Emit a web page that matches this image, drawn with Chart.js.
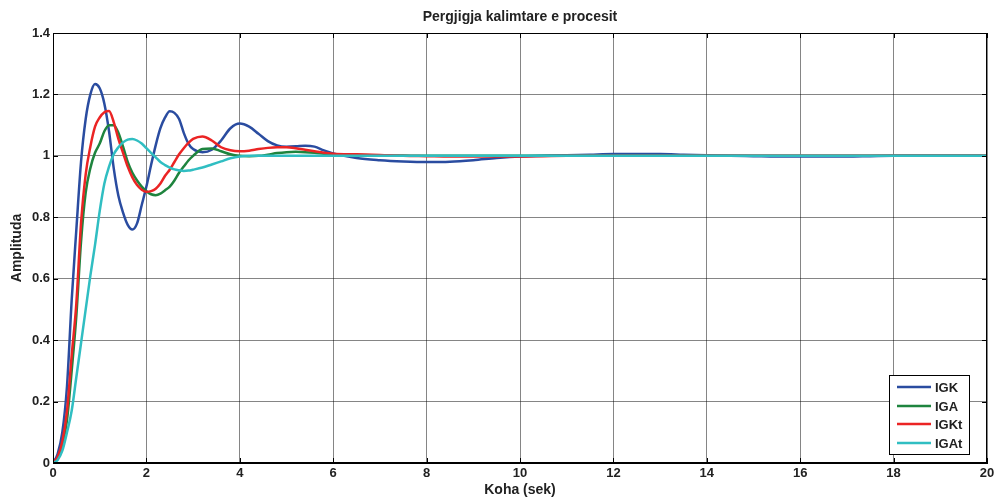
<!DOCTYPE html>
<html>
<head>
<meta charset="utf-8">
<script src="https://cdn.jsdelivr.net/npm/chart.js@4/dist/chart.umd.min.js"></script>
<style>
  html, body { margin: 0; padding: 0; background: #fff; }
  #wrap { width: 1000px; height: 503px; }
</style>
</head>
<body>
<div id="wrap"><canvas id="c" width="1000" height="503"></canvas></div>
<script>
const chartTitle = "Pergjigja kalimtare e procesit";
const xTitle = "Koha (sek)";
const yTitle = "Amplituda";
const seriesNames = ["IGK", "IGA", "IGKt", "IGAt"];
const seriesColors = ["rgb(42,76,160)", "rgb(30,132,62)", "rgb(235,36,36)", "rgb(48,190,194)"];

const time = [0,0.1,0.2,0.3,0.4,0.5,0.6,0.7,0.8,0.9,1.0,1.1,1.2,1.3,1.4,1.5,1.6,1.7,1.8,1.9,2.0,2.1,2.2,2.3,2.4,2.5,2.6,2.7,2.8,2.9,3.0,
  3.2,3.4,3.6,3.8,4.0,4.2,4.4,4.6,4.8,5.0,5.2,5.4,5.6,5.8,6.0,
  6.5,7,7.5,8,8.5,9,9.5,10,10.5,11,11.5,12,12.5,13,13.5,14,14.5,15,15.5,16,16.5,17,17.5,18,18.5,19,19.5,20];

const igk = [0,0.03,0.1,0.25,0.53,0.76,0.98,1.12,1.2,1.234,1.22,1.17,1.08,0.96,0.87,0.815,0.775,0.76,0.78,0.84,0.9,0.97,1.035,1.09,1.125,1.145,1.14,1.12,1.075,1.04,1.022,
  1.012,1.02,1.05,1.09,1.105,1.095,1.072,1.048,1.034,1.03,1.031,1.033,1.03,1.018,1.008,
  0.993,0.986,0.982,0.98,0.981,0.986,0.993,0.998,1.0,1.002,1.004,1.006,1.006,1.006,1.004,1.002,1.0,0.999,0.998,0.998,0.998,0.998,0.999,1.0,1.0,1.0,1.0,1.0];

const iga = [0,0.015,0.06,0.14,0.3,0.48,0.72,0.88,0.96,1.01,1.04,1.08,1.1,1.1,1.075,1.03,0.98,0.945,0.92,0.9,0.885,0.875,0.872,0.877,0.888,0.9,0.92,0.945,0.965,0.985,1.0,
  1.022,1.024,1.015,1.005,1.0,0.999,1.0,1.004,1.009,1.012,1.013,1.012,1.01,1.007,1.005,
  1.003,1.002,1.001,1.0,1.0,1.0,1.0,1.0,1.0,1.0,1.0,1.0,1.0,1.0,1.0,1.0,1.0,1.0,1.0,1.0,1.0,1.0,1.0,1.0,1.0,1.0,1.0,1.0];

const igkt = [0,0.02,0.07,0.17,0.35,0.52,0.78,0.94,1.03,1.095,1.125,1.142,1.146,1.11,1.055,1.01,0.965,0.93,0.905,0.89,0.883,0.885,0.893,0.91,0.935,0.955,0.98,1.005,1.025,1.042,1.055,
  1.063,1.05,1.028,1.018,1.015,1.017,1.022,1.026,1.028,1.028,1.025,1.02,1.015,1.01,1.007,
  1.005,1.003,1.0,0.999,0.998,0.998,0.998,0.998,0.999,1.0,1.0,1.0,1.0,1.0,1.0,1.0,1.0,1.0,1.0,1.0,1.0,1.0,1.0,1.0,1.0,1.0,1.0,1.0];

const igat = [0,0.01,0.04,0.1,0.17,0.28,0.39,0.5,0.61,0.71,0.82,0.91,0.965,1.005,1.028,1.044,1.053,1.055,1.05,1.04,1.025,1.01,0.995,0.98,0.97,0.962,0.956,0.953,0.951,0.952,0.955,
  0.962,0.972,0.982,0.992,0.998,1.0,1.0,1.0,1.0,1.0,1.0,1.0,1.0,1.0,1.0,
  1.0,1.0,1.0,1.0,1.0,1.0,1.0,1.0,1.0,1.0,1.0,1.0,1.0,1.0,1.0,1.0,1.0,1.0,1.0,1.0,1.0,1.0,1.0,1.0,1.0,1.0,1.0,1.0];

const xTicks = [0,2,4,6,8,10,12,14,16,18,20];
const yTicks = [0,0.2,0.4,0.6,0.8,1,1.2,1.4];

const allSeries = [igk, iga, igkt, igat];
const FONT = "'Liberation Sans', Arial, sans-serif";

const datasets = allSeries.map((vals, i) => ({
  label: seriesNames[i],
  data: time.map((t, k) => ({x: t, y: vals[k]})),
  borderColor: seriesColors[i],
  backgroundColor: seriesColors[i],
  borderWidth: 2.5,
  pointRadius: 0,
  fill: false,
  cubicInterpolationMode: 'monotone',
  order: allSeries.length - i
}));

const framePlugin = {
  id: 'frame',
  afterDatasetsDraw(chart) {
    const {ctx, chartArea: a, scales} = chart;
    ctx.save();
    ctx.strokeStyle = '#000';
    ctx.lineWidth = 1;
    ctx.strokeRect(a.left + 0.5, a.top + 0.5, a.right - a.left - 1, a.bottom - a.top - 1);
    const tl = 5;
    ctx.beginPath();
    xTicks.forEach(v => {
      const px = Math.round(scales.x.getPixelForValue(v)) + 0.5;
      ctx.moveTo(px, a.bottom); ctx.lineTo(px, a.bottom - tl);
      ctx.moveTo(px, a.top); ctx.lineTo(px, a.top + tl);
    });
    yTicks.forEach(v => {
      const py = Math.round(scales.y.getPixelForValue(v)) + 0.5;
      ctx.moveTo(a.left, py); ctx.lineTo(a.left + tl, py);
      ctx.moveTo(a.right, py); ctx.lineTo(a.right - tl, py);
    });
    ctx.stroke();

    const bx = 889, by = 375, bw = 80, bh = 79;
    ctx.fillStyle = '#fff';
    ctx.fillRect(bx, by, bw, bh);
    ctx.strokeStyle = '#000';
    ctx.strokeRect(bx + 0.5, by + 0.5, bw, bh);
    const rows = [387, 406, 424, 443];
    ctx.font = "bold 13px " + FONT;
    ctx.textBaseline = 'middle';
    ctx.textAlign = 'left';
    chart.data.datasets.forEach((ds, i) => {
      const y = rows[i];
      ctx.strokeStyle = ds.borderColor;
      ctx.lineWidth = 2.5;
      ctx.beginPath();
      ctx.moveTo(897, y); ctx.lineTo(931, y);
      ctx.stroke();
      ctx.fillStyle = '#222';
      ctx.fillText(ds.label, 935, y + 1);
    });
    ctx.restore();
  }
};

new Chart(document.getElementById('c'), {
  type: 'line',
  data: { datasets },
  plugins: [framePlugin],
  options: {
    responsive: false,
    animation: false,
    devicePixelRatio: 1,
    layout: { padding: { left: 0, right: 13, top: 0, bottom: 0 } },
    plugins: {
      legend: { display: false },
      tooltip: { enabled: false },
      title: {
        display: true,
        text: chartTitle,
        fullSize: false,
        color: '#222',
        font: { family: FONT, size: 14, weight: 'bold', lineHeight: 1.2 },
        padding: { top: 9, bottom: 7.2 }
      }
    },
    scales: {
      x: {
        type: 'linear',
        min: 0, max: 20,
        afterFit(s) { s.height = 40; },
        afterBuildTicks(s) { s.ticks = xTicks.map(v => ({value: v})); },
        ticks: { color: '#222', padding: 3, maxRotation: 0, autoSkip: false,
          font: { family: FONT, size: 13, weight: 'bold' } },
        grid: { color: 'rgba(0,0,0,0.48)', lineWidth: 1, drawTicks: false },
        border: { color: '#000', width: 1 },
        title: { display: true, text: xTitle, color: '#222', padding: { top: 0, bottom: 4.5 },
          font: { family: FONT, size: 14, weight: 'bold', lineHeight: 1.2 } }
      },
      y: {
        type: 'linear',
        min: 0, max: 1.4,
        afterFit(s) { s.width = 53; },
        afterBuildTicks(s) { s.ticks = yTicks.map(v => ({value: v})); },
        ticks: { color: '#222', padding: 3, autoSkip: false,
          font: { family: FONT, size: 13, weight: 'bold' },
          callback: (v) => String(Math.round(v * 10) / 10) },
        grid: { color: 'rgba(0,0,0,0.48)', lineWidth: 1, drawTicks: false },
        border: { color: '#000', width: 1 },
        title: { display: true, text: yTitle, color: '#222', padding: { top: 9, bottom: 0 },
          font: { family: FONT, size: 14, weight: 'bold', lineHeight: 1.2 } }
      }
    }
  }
});
</script>
</body>
</html>
